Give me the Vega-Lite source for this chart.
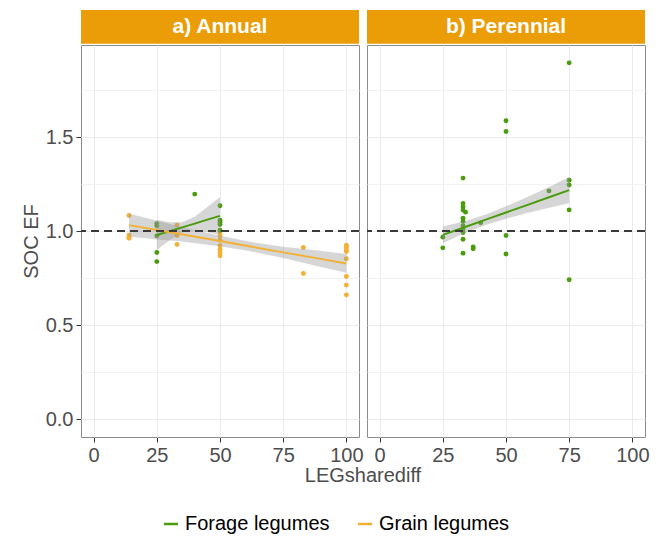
{
  "$schema": "https://vega.github.io/schema/vega-lite/v6.json",
  "padding": {"left": 21, "top": 9, "right": 16, "bottom": 5},
  "bounds": "flush",
  "data": {"values": [
    {"p": "a) Annual", "g": "Grain legumes", "k": "pt", "x": 14, "y": 1.083},
    {"p": "a) Annual", "g": "Grain legumes", "k": "pt", "x": 14, "y": 0.979},
    {"p": "a) Annual", "g": "Grain legumes", "k": "pt", "x": 14, "y": 0.968},
    {"p": "a) Annual", "g": "Grain legumes", "k": "pt", "x": 14, "y": 0.962},
    {"p": "a) Annual", "g": "Grain legumes", "k": "pt", "x": 33, "y": 1.032},
    {"p": "a) Annual", "g": "Grain legumes", "k": "pt", "x": 33, "y": 0.977},
    {"p": "a) Annual", "g": "Grain legumes", "k": "pt", "x": 33, "y": 0.929},
    {"p": "a) Annual", "g": "Grain legumes", "k": "pt", "x": 50, "y": 1.0},
    {"p": "a) Annual", "g": "Grain legumes", "k": "pt", "x": 50, "y": 0.99},
    {"p": "a) Annual", "g": "Grain legumes", "k": "pt", "x": 50, "y": 0.975},
    {"p": "a) Annual", "g": "Grain legumes", "k": "pt", "x": 50, "y": 0.952},
    {"p": "a) Annual", "g": "Grain legumes", "k": "pt", "x": 50, "y": 0.922},
    {"p": "a) Annual", "g": "Grain legumes", "k": "pt", "x": 50, "y": 0.904},
    {"p": "a) Annual", "g": "Grain legumes", "k": "pt", "x": 50, "y": 0.886},
    {"p": "a) Annual", "g": "Grain legumes", "k": "pt", "x": 50, "y": 0.869},
    {"p": "a) Annual", "g": "Grain legumes", "k": "pt", "x": 83, "y": 0.913},
    {"p": "a) Annual", "g": "Grain legumes", "k": "pt", "x": 83, "y": 0.775},
    {"p": "a) Annual", "g": "Grain legumes", "k": "pt", "x": 100, "y": 0.925},
    {"p": "a) Annual", "g": "Grain legumes", "k": "pt", "x": 100, "y": 0.913},
    {"p": "a) Annual", "g": "Grain legumes", "k": "pt", "x": 100, "y": 0.9},
    {"p": "a) Annual", "g": "Grain legumes", "k": "pt", "x": 100, "y": 0.892},
    {"p": "a) Annual", "g": "Grain legumes", "k": "pt", "x": 100, "y": 0.853},
    {"p": "a) Annual", "g": "Grain legumes", "k": "pt", "x": 100, "y": 0.759},
    {"p": "a) Annual", "g": "Grain legumes", "k": "pt", "x": 100, "y": 0.713},
    {"p": "a) Annual", "g": "Grain legumes", "k": "pt", "x": 100, "y": 0.661},
    {"p": "a) Annual", "g": "Forage legumes", "k": "pt", "x": 25, "y": 1.04},
    {"p": "a) Annual", "g": "Forage legumes", "k": "pt", "x": 25, "y": 1.028},
    {"p": "a) Annual", "g": "Forage legumes", "k": "pt", "x": 25, "y": 0.975},
    {"p": "a) Annual", "g": "Forage legumes", "k": "pt", "x": 25, "y": 0.886},
    {"p": "a) Annual", "g": "Forage legumes", "k": "pt", "x": 25, "y": 0.838},
    {"p": "a) Annual", "g": "Forage legumes", "k": "pt", "x": 40, "y": 1.197},
    {"p": "a) Annual", "g": "Forage legumes", "k": "pt", "x": 50, "y": 1.135},
    {"p": "a) Annual", "g": "Forage legumes", "k": "pt", "x": 50, "y": 1.058},
    {"p": "a) Annual", "g": "Forage legumes", "k": "pt", "x": 50, "y": 1.046},
    {"p": "a) Annual", "g": "Forage legumes", "k": "pt", "x": 50, "y": 1.035},
    {"p": "a) Annual", "g": "Forage legumes", "k": "pt", "x": 50, "y": 1.005},
    {"p": "b) Perennial", "g": "Forage legumes", "k": "pt", "x": 25, "y": 0.968},
    {"p": "b) Perennial", "g": "Forage legumes", "k": "pt", "x": 25, "y": 0.911},
    {"p": "b) Perennial", "g": "Forage legumes", "k": "pt", "x": 33, "y": 1.282},
    {"p": "b) Perennial", "g": "Forage legumes", "k": "pt", "x": 33, "y": 1.147},
    {"p": "b) Perennial", "g": "Forage legumes", "k": "pt", "x": 33, "y": 1.129},
    {"p": "b) Perennial", "g": "Forage legumes", "k": "pt", "x": 33, "y": 1.112},
    {"p": "b) Perennial", "g": "Forage legumes", "k": "pt", "x": 34, "y": 1.101},
    {"p": "b) Perennial", "g": "Forage legumes", "k": "pt", "x": 33, "y": 1.069},
    {"p": "b) Perennial", "g": "Forage legumes", "k": "pt", "x": 33, "y": 1.051},
    {"p": "b) Perennial", "g": "Forage legumes", "k": "pt", "x": 33, "y": 1.028},
    {"p": "b) Perennial", "g": "Forage legumes", "k": "pt", "x": 33, "y": 1.011},
    {"p": "b) Perennial", "g": "Forage legumes", "k": "pt", "x": 33, "y": 0.993},
    {"p": "b) Perennial", "g": "Forage legumes", "k": "pt", "x": 33, "y": 0.957},
    {"p": "b) Perennial", "g": "Forage legumes", "k": "pt", "x": 33, "y": 0.883},
    {"p": "b) Perennial", "g": "Forage legumes", "k": "pt", "x": 37, "y": 0.916},
    {"p": "b) Perennial", "g": "Forage legumes", "k": "pt", "x": 37, "y": 0.906},
    {"p": "b) Perennial", "g": "Forage legumes", "k": "pt", "x": 40, "y": 1.044},
    {"p": "b) Perennial", "g": "Forage legumes", "k": "pt", "x": 50, "y": 1.587},
    {"p": "b) Perennial", "g": "Forage legumes", "k": "pt", "x": 50, "y": 1.53},
    {"p": "b) Perennial", "g": "Forage legumes", "k": "pt", "x": 50, "y": 0.977},
    {"p": "b) Perennial", "g": "Forage legumes", "k": "pt", "x": 50, "y": 0.878},
    {"p": "b) Perennial", "g": "Forage legumes", "k": "pt", "x": 67, "y": 1.214},
    {"p": "b) Perennial", "g": "Forage legumes", "k": "pt", "x": 75, "y": 1.895},
    {"p": "b) Perennial", "g": "Forage legumes", "k": "pt", "x": 75, "y": 1.271},
    {"p": "b) Perennial", "g": "Forage legumes", "k": "pt", "x": 75, "y": 1.245},
    {"p": "b) Perennial", "g": "Forage legumes", "k": "pt", "x": 75, "y": 1.113},
    {"p": "b) Perennial", "g": "Forage legumes", "k": "pt", "x": 75, "y": 0.741},
    {"p": "a) Annual", "g": "Forage legumes", "k": "fit", "x": 25, "y": 0.979, "lo": 0.899, "hi": 1.059},
    {"p": "a) Annual", "g": "Forage legumes", "k": "fit", "x": 30, "y": 0.999, "lo": 0.951, "hi": 1.047},
    {"p": "a) Annual", "g": "Forage legumes", "k": "fit", "x": 35, "y": 1.02, "lo": 0.993, "hi": 1.047},
    {"p": "a) Annual", "g": "Forage legumes", "k": "fit", "x": 40, "y": 1.04, "lo": 1.003, "hi": 1.077},
    {"p": "a) Annual", "g": "Forage legumes", "k": "fit", "x": 45, "y": 1.061, "lo": 0.994, "hi": 1.128},
    {"p": "a) Annual", "g": "Forage legumes", "k": "fit", "x": 50, "y": 1.081, "lo": 0.981, "hi": 1.181},
    {"p": "a) Annual", "g": "Grain legumes", "k": "fit", "x": 14, "y": 1.032, "lo": 0.972, "hi": 1.092},
    {"p": "a) Annual", "g": "Grain legumes", "k": "fit", "x": 25, "y": 1.006, "lo": 0.956, "hi": 1.056},
    {"p": "a) Annual", "g": "Grain legumes", "k": "fit", "x": 33, "y": 0.987, "lo": 0.947, "hi": 1.027},
    {"p": "a) Annual", "g": "Grain legumes", "k": "fit", "x": 50, "y": 0.947, "lo": 0.919, "hi": 0.975},
    {"p": "a) Annual", "g": "Grain legumes", "k": "fit", "x": 62, "y": 0.918, "lo": 0.893, "hi": 0.943},
    {"p": "a) Annual", "g": "Grain legumes", "k": "fit", "x": 75, "y": 0.887, "lo": 0.857, "hi": 0.917},
    {"p": "a) Annual", "g": "Grain legumes", "k": "fit", "x": 87, "y": 0.859, "lo": 0.819, "hi": 0.899},
    {"p": "a) Annual", "g": "Grain legumes", "k": "fit", "x": 100, "y": 0.828, "lo": 0.778, "hi": 0.878},
    {"p": "b) Perennial", "g": "Forage legumes", "k": "fit", "x": 25, "y": 0.98, "lo": 0.935, "hi": 1.025},
    {"p": "b) Perennial", "g": "Forage legumes", "k": "fit", "x": 33, "y": 1.018, "lo": 0.986, "hi": 1.05},
    {"p": "b) Perennial", "g": "Forage legumes", "k": "fit", "x": 42, "y": 1.061, "lo": 1.033, "hi": 1.089},
    {"p": "b) Perennial", "g": "Forage legumes", "k": "fit", "x": 50, "y": 1.099, "lo": 1.066, "hi": 1.132},
    {"p": "b) Perennial", "g": "Forage legumes", "k": "fit", "x": 58, "y": 1.137, "lo": 1.095, "hi": 1.179},
    {"p": "b) Perennial", "g": "Forage legumes", "k": "fit", "x": 67, "y": 1.18, "lo": 1.125, "hi": 1.235},
    {"p": "b) Perennial", "g": "Forage legumes", "k": "fit", "x": 75, "y": 1.218, "lo": 1.148, "hi": 1.288}
  ]},
  "facet": {"column": {"field": "p", "type": "nominal", "title": "LEGsharediff",
    "header": {"labels": false, "titleOrient": "bottom", "titleFontSize": 20, "titleFontWeight": "normal", "titleColor": "#4D4D4D", "titlePadding": -9}}},
  "spacing": 8,
  "spec": {
    "width": 278,
    "height": 392,
    "layer": [
      {
        "transform": [{"filter": "datum.k == 'pt'"}],
        "mark": {"type": "circle", "size": 24, "opacity": 1},
        "encoding": {
          "x": {"field": "x", "type": "quantitative", "title": null,
                "scale": {"domain": [-5, 105], "nice": false, "zero": false},
                "axis": {"values": [0, 12.5, 25, 37.5, 50, 62.5, 75, 87.5, 100],
                         "labelExpr": "datum.value % 25 == 0 ? format(datum.value, 'd') : ''",
                         "tickColor": {"condition": {"test": "datum.value % 25 != 0", "value": "transparent"}, "value": "#333333"},
                         "gridColor": {"condition": {"test": "datum.value % 25 != 0", "value": "#F2F2F2"}, "value": "#EBEBEB"}}},
          "y": {"field": "y", "type": "quantitative", "title": "SOC EF",
                "scale": {"domain": [-0.095, 1.99], "nice": false, "zero": false},
                "axis": {"values": [0, 0.25, 0.5, 0.75, 1, 1.25, 1.5, 1.75],
                         "labelExpr": "datum.value % 0.5 == 0 ? format(datum.value, '.1f') : ''",
                         "tickColor": {"condition": {"test": "datum.value % 0.5 != 0", "value": "transparent"}, "value": "#333333"},
                         "gridColor": {"condition": {"test": "datum.value % 0.5 != 0", "value": "#F2F2F2"}, "value": "#EBEBEB"}}},
          "color": {"field": "g", "type": "nominal", "title": null,
                    "scale": {"domain": ["Forage legumes", "Grain legumes"], "range": ["#4A9B0E", "#F2B134"]},
                    "legend": {"orient": "bottom", "direction": "horizontal", "symbolType": "stroke", "symbolStrokeWidth": 2.5, "symbolSize": 200, "labelFontSize": 20, "labelColor": "#000000", "columnPadding": 22, "offset": 28}}
        }
      },
      {
        "transform": [{"filter": "datum.k == 'fit'"}],
        "mark": {"type": "area", "color": "#999999", "opacity": 0.4},
        "encoding": {
          "x": {"field": "x", "type": "quantitative", "title": null},
          "y": {"field": "lo", "type": "quantitative", "title": "SOC EF"},
          "y2": {"field": "hi"},
          "detail": {"field": "g", "type": "nominal"}
        }
      },
      {
        "transform": [{"filter": "datum.k == 'fit'"}],
        "mark": {"type": "line", "strokeWidth": 2},
        "encoding": {
          "x": {"field": "x", "type": "quantitative", "title": null},
          "y": {"field": "y", "type": "quantitative", "title": "SOC EF"},
          "color": {"field": "g", "type": "nominal", "title": null}
        }
      },
      {
        "mark": {"type": "rule", "strokeDash": [8, 5], "color": "#3A3A3A", "strokeWidth": 1.6},
        "encoding": {"y": {"datum": 1, "type": "quantitative"}}
      },
      {
        "transform": [{"aggregate": [{"op": "count", "as": "n"}], "groupby": ["p"]}],
        "mark": {"type": "rect", "color": "#EA9D06", "clip": false},
        "encoding": {
          "x": {"datum": -5, "type": "quantitative"},
          "x2": {"datum": 105},
          "y": {"datum": 1.996, "type": "quantitative"},
          "y2": {"datum": 2.176}
        }
      },
      {
        "transform": [{"aggregate": [{"op": "count", "as": "n"}], "groupby": ["p"]}],
        "mark": {"type": "text", "color": "white", "fontSize": 21, "fontWeight": "bold", "baseline": "middle", "align": "center", "clip": false},
        "encoding": {
          "x": {"datum": 50, "type": "quantitative"},
          "y": {"datum": 2.087, "type": "quantitative"},
          "text": {"field": "p", "type": "nominal"}
        }
      }
    ]
  },
  "config": {
    "font": "Liberation Sans",
    "view": {"stroke": "#8C8C8C", "strokeWidth": 1},
    "axis": {"domain": false, "labelFontSize": 20, "labelColor": "#4D4D4D", "titleFontSize": 20, "titleFontWeight": "normal", "titleColor": "#4D4D4D", "tickSize": 5, "labelPadding": 3, "gridWidth": 1},
    "legend": {"layout": {"bottom": {"anchor": "middle"}}}
  }
}
